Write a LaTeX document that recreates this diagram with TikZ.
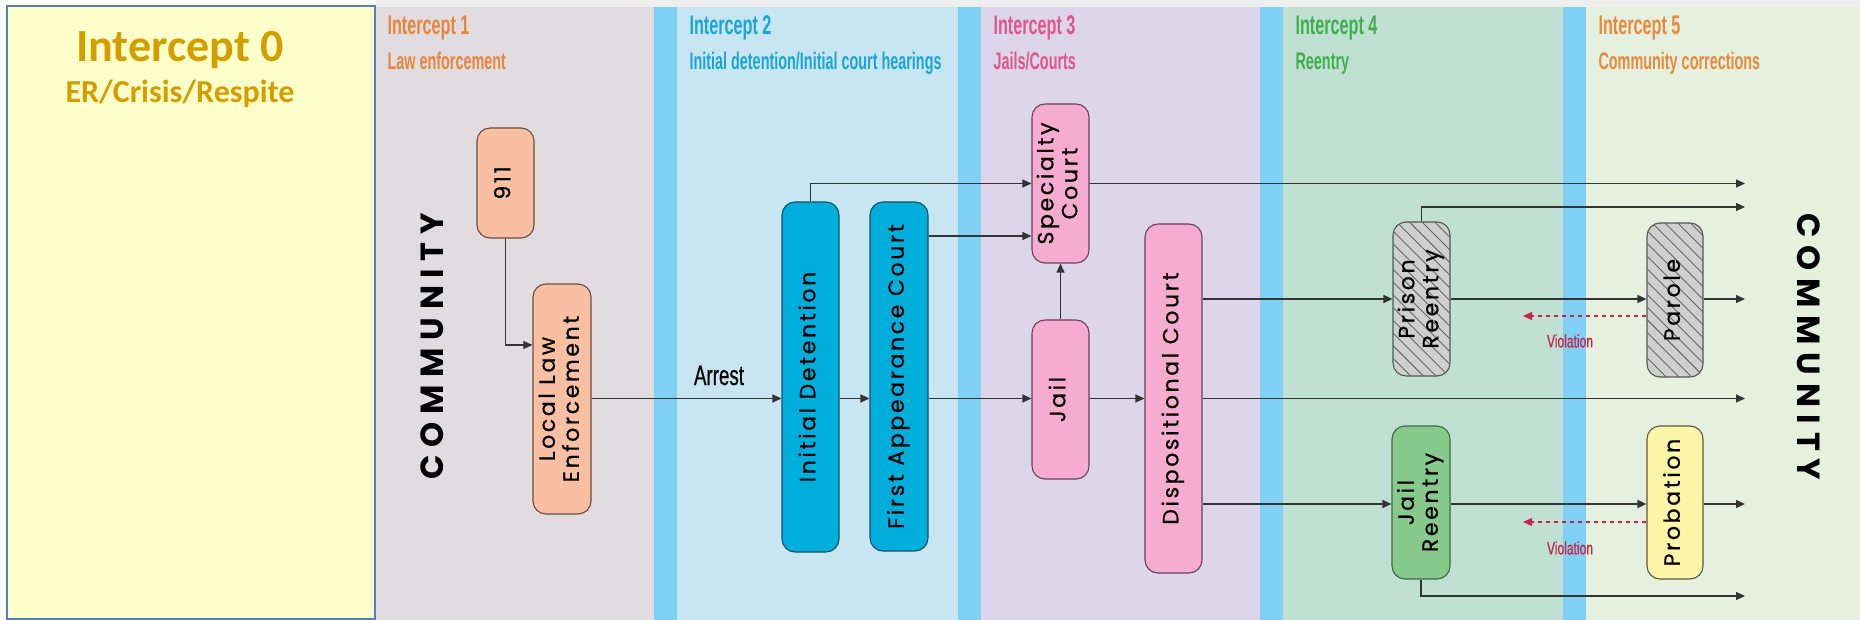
\documentclass[tikz,border=0pt]{standalone}
\usepackage{fontspec}
\usepackage{graphicx}
\usetikzlibrary{arrows.meta,patterns.meta}
\newfontfamily\geo[LetterSpace=12,FakeBold=0.6]{Poppins}
\newfontfamily\geobf[LetterSpace=24]{Poppins}
\newfontfamily\cond[FakeStretch=0.6]{Liberation Sans}
\newfontfamily\condl[FakeStretch=0.67,FakeBold=0.5]{Liberation Sans}
\newfontfamily\calib{Carlito}
\definecolor{topgrey}{HTML}{EFEFEF}
\definecolor{bandA}{HTML}{E0DCDF}
\definecolor{bandB}{HTML}{C8E6F1}
\definecolor{bandC}{HTML}{DDD5EA}
\definecolor{bandD}{HTML}{BFE0D3}
\definecolor{bandE}{HTML}{E5F0DE}
\definecolor{stripe}{HTML}{80D0F5}
\definecolor{zerofill}{HTML}{FFFFCC}
\definecolor{zeroborder}{HTML}{4F81BD}
\definecolor{zerotext}{HTML}{D39F00}
\definecolor{tA}{HTML}{E8853D}
\definecolor{tB}{HTML}{1BA4DA}
\definecolor{tC}{HTML}{E0568A}
\definecolor{tD}{HTML}{3EAF4A}
\definecolor{tE}{HTML}{E88A3C}
\definecolor{salmonF}{HTML}{F9BFA3}
\definecolor{salmonB}{HTML}{6B4C3F}
\definecolor{cyanF}{HTML}{00AEDB}
\definecolor{cyanB}{HTML}{1A4F6A}
\definecolor{pinkF}{HTML}{F6ABD0}
\definecolor{pinkB}{HTML}{6B4058}
\definecolor{greyF}{HTML}{CFCFCF}
\definecolor{greyB}{HTML}{555555}
\definecolor{greenF}{HTML}{86C98A}
\definecolor{greenB}{HTML}{3E6B45}
\definecolor{yelF}{HTML}{FDF6A8}
\definecolor{yelB}{HTML}{5A5A3A}
\definecolor{cline}{HTML}{333333}
\definecolor{viol}{HTML}{C8234A}
\newcommand\vlab[1]{\rotatebox{90}{\begin{tabular}{@{}c@{}}#1\end{tabular}}}
\begin{document}
\begin{tikzpicture}[x=1pt,y=-1pt,
  box/.style={rounded corners=13pt, line width=1.1pt, inner sep=0pt,
    font=\geo\fontsize{22}{24}\selectfont, text=black},
  salmonbox/.style={box, fill=salmonF, draw=salmonB},
  cyanbox/.style={box, fill=cyanF, draw=cyanB},
  pinkbox/.style={box, fill=pinkF, draw=pinkB},
  hatchbox/.style={box, fill=greyF, draw=greyB,
    postaction={pattern={Lines[angle=-45,distance=9pt,line width=0.9pt]}, pattern color=black!60}},
  greenbox/.style={box, fill=greenF, draw=greenB},
  yelbox/.style={box, fill=yelF, draw=yelB},
  arr/.style={-{Triangle[length=9pt,width=8pt]}, line width=1.1pt, draw=cline},
  varr/.style={-{Triangle[length=9pt,width=8pt]}, line width=1.1pt, draw=viol, dash pattern=on 4pt off 4pt},
  ttl/.style={anchor=base west, font=\cond\bfseries\fontsize{27}{27}\selectfont},
  sub/.style={anchor=base west, font=\cond\bfseries\fontsize{24}{24}\selectfont},
  vtxt/.style={text=viol, font=\condl\fontsize{18}{18}\selectfont},
  comm/.style={font=\geobf\bfseries\fontsize{32}{32}\selectfont, text=black}
]
\useasboundingbox (0,0) rectangle (1860,620);
% background bands
\fill[white] (0,0) rectangle (1860,620);
\fill[topgrey] (376,0) rectangle (1860,7);
\fill[bandA] (376,7) rectangle (654,620);
\fill[stripe] (654,7) rectangle (677,620);
\fill[bandB] (677,7) rectangle (958,620);
\fill[stripe] (958,7) rectangle (981,620);
\fill[bandC] (981,7) rectangle (1260,620);
\fill[stripe] (1260,7) rectangle (1283,620);
\fill[bandD] (1283,7) rectangle (1563,620);
\fill[stripe] (1563,7) rectangle (1586,620);
\fill[bandE] (1586,7) rectangle (1860,620);
\draw[zeroborder, line width=2pt, fill=zerofill] (7,6) rectangle (375,619);

% titles
\node[anchor=base, font=\calib\bfseries\fontsize{46}{46}\selectfont, text=zerotext] (t0) at (180,62) {Intercept 0};
\node[anchor=base, font=\calib\bfseries\fontsize{32}{32}\selectfont, text=zerotext] (s0) at (180,103) {ER/Crisis/Respite};
\node[ttl, text=tA] (t1) at (384,35) {Intercept 1};
\node[sub, text=tA] (s1) at (384,70) {Law enforcement};
\node[ttl, text=tB] (t2) at (686,35) {Intercept 2};
\node[sub, text=tB] (s2) at (686,70) {Initial detention/Initial court hearings};
\node[ttl, text=tC] (t3) at (990,35) {Intercept 3};
\node[sub, text=tC] (s3) at (990,70) {Jails/Courts};
\node[ttl, text=tD] (t4) at (1292,35) {Intercept 4};
\node[sub, text=tD] (s4) at (1292,70) {Reentry};
\node[ttl, text=tE] (t5) at (1595,35) {Intercept 5};
\node[sub, text=tE] (s5) at (1595,70) {Community corrections};

% community labels
\node[comm] (commL) at (432,346) {\rotatebox{90}{COMMUNITY}};
\node[comm] (commR) at (1809,347) {\rotatebox{-90}{COMMUNITY}};

% boxes
\node[salmonbox, minimum width=57pt, minimum height=110pt] (n911) at (505.5,183) {\vlab{911}};
\node[salmonbox, minimum width=58pt, minimum height=230pt] (lle) at (562,399) {\vlab{Local Law\\Enforcement}};
\node[cyanbox, minimum width=57pt, minimum height=350pt] (idet) at (810.5,377) {\vlab{Initial Detention}};
\node[cyanbox, minimum width=58pt, minimum height=349pt] (fac) at (899,376.5) {\vlab{First Appearance Court}};
\node[pinkbox, minimum width=57pt, minimum height=159pt] (spec) at (1060.5,183.5) {\vlab{Specialty\\Court}};
\node[pinkbox, minimum width=57pt, minimum height=159pt] (jail) at (1060.5,399.5) {\vlab{Jail}};
\node[pinkbox, minimum width=57pt, minimum height=349pt] (disp) at (1173.5,398.5) {\vlab{Dispositional Court}};
\node[hatchbox, minimum width=57pt, minimum height=154pt] (prison) at (1421.5,299) {\vlab{Prison\\Reentry}};
\node[greenbox, minimum width=58pt, minimum height=153pt] (jailre) at (1421,502.5) {\vlab{Jail\\Reentry}};
\node[hatchbox, minimum width=56pt, minimum height=154pt] (parole) at (1675,300) {\vlab{Parole}};
\node[yelbox, minimum width=56pt, minimum height=153pt] (prob) at (1675,502.5) {\vlab{Probation}};

% helper coordinates
\coordinate (mainy) at (0,398.5);
\coordinate (y236) at (0,236);
\coordinate (e183) at (1745,183.5);
\coordinate (e207) at (1745,207);
\coordinate (e299) at (1745,299);
\coordinate (emain) at (1745,398.5);
\coordinate (e503) at (1745,504);
\coordinate (e596) at (1745,596);
\coordinate (v1) at (1523,316);
\coordinate (v2) at (1523,522);

% connectors
\draw[arr] (n911.south) |- ([yshift=54pt]lle.west);
\draw[arr] (lle.east |- mainy) -- (idet.west |- mainy);
\node[font=\condl\fontsize{28}{28}\selectfont, anchor=base] (arrest) at (719,385) {Arrest};
\draw[arr] (idet.east |- mainy) -- (fac.west |- mainy);
\draw[arr] (fac.east |- mainy) -- (jail.west |- mainy);
\draw[arr] (jail.east |- mainy) -- (disp.west |- mainy);
\draw[arr] (disp.east |- mainy) -- (emain);
\draw[arr] (idet.north) |- (spec.west);
\draw[arr] (fac.east |- y236) -- (spec.west |- y236);
\draw[arr] (spec.east) -- (e183);
\draw[arr] (jail.north) -- (spec.south);
\draw[arr] (disp.east |- prison.west) -- (prison.west);
\draw[arr] (disp.east |- e503) -- (jailre.west |- e503);
\draw[arr] (prison.north) |- (e207);
\draw[arr] (prison.east) -- (parole.west |- prison.east);
\draw[arr] (parole.east |- e299) -- (e299);
\draw[arr] (jailre.east |- e503) -- (prob.west |- e503);
\draw[arr] (prob.east |- e503) -- (e503);
\draw[arr] (jailre.south) |- (e596);
\draw[varr] (parole.west |- v1) -- (v1);
\draw[varr] (prob.west |- v2) -- (v2);
\node[vtxt] (vl1) at (1570,341) {Violation};
\node[vtxt] (vl2) at (1570,548) {Violation};
\end{tikzpicture}
\end{document}
